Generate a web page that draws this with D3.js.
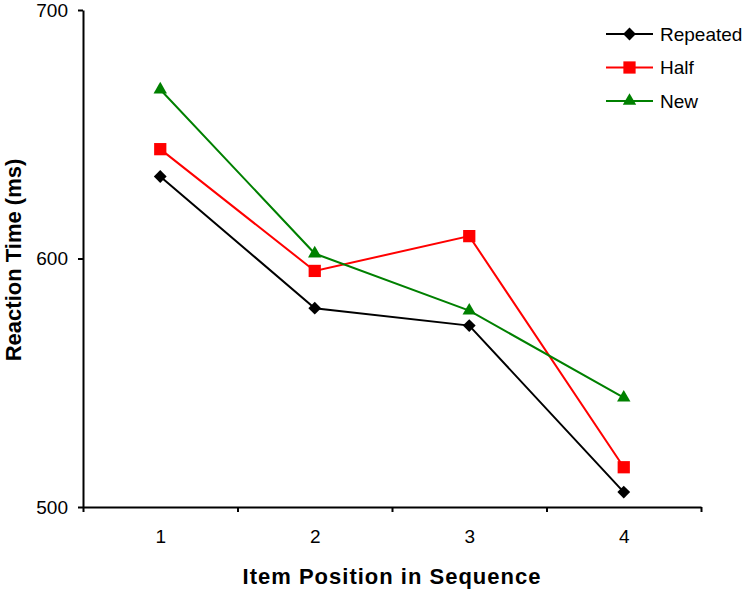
<!DOCTYPE html>
<html>
<head>
<meta charset="utf-8">
<script src="https://cdn.jsdelivr.net/npm/d3@7"></script>
<style>
  body { margin: 0; background: #fff; }
  text { font-family: Arial, "Liberation Sans", sans-serif; }
</style>
</head>
<body>
<div id="chart"></div>
<script>
var width = 746;
var height = 592;

// data
var positions = [1, 2, 3, 4];
var repeated = [633, 580, 573, 506];
var half = [644, 595, 609, 516];
var newItems = [668, 602, 579, 544];
var yTicks = [500, 600, 700];

// diamond = square turned 45 degrees
var series = [
  { name: 'Repeated', values: repeated, color: '#000000', symbol: d3.symbolSquare, size: 82, rot: 45 },
  { name: 'Half', values: half, color: '#ff0000', symbol: d3.symbolSquare, size: 150, rot: 0 },
  { name: 'New', values: newItems, color: '#008000', symbol: d3.symbolTriangle, size: 78, rot: 0 }
];

var svg = d3.select('#chart')
    .append('svg')
    .attr('width', width)
    .attr('height', height);

var x = d3.scaleLinear().domain([0.5, 4.5]).range([83, 701]);
var y = d3.scaleLinear().domain([500, 700]).range([507, 10]);

// y axis
var yAxis = svg.append('g')
    .attr('transform', 'translate(83,0)')
    .call(d3.axisLeft(y).tickValues(yTicks).tickSize(5).tickSizeOuter(0).tickPadding(10));
yAxis.select('.domain').attr('stroke-width', 2);
yAxis.selectAll('.tick line').attr('stroke-width', 2);
yAxis.selectAll('text').style('font-size', '19px').attr('fill', '#000');

// x axis: ticks between categories
var xAxis = svg.append('g')
    .attr('transform', 'translate(0,507)')
    .call(d3.axisBottom(x).tickValues([0.5, 1.5, 2.5, 3.5, 4.5]).tickFormat('').tickSize(5).tickSizeOuter(0));
xAxis.select('.domain').attr('stroke-width', 2);
xAxis.selectAll('.tick line').attr('stroke-width', 2);

// category labels
var xLabels = svg.append('g')
    .attr('transform', 'translate(0,507)')
    .call(d3.axisBottom(x).tickValues(positions).tickFormat(d3.format('d')).tickSize(0).tickPadding(23));
xLabels.select('.domain').remove();
xLabels.selectAll('text').style('font-size', '19px').attr('fill', '#000');

// axis titles
svg.append('text')
    .attr('x', 392)
    .attr('y', 584)
    .attr('text-anchor', 'middle')
    .style('font-size', '22px')
    .style('font-weight', 'bold')
    .style('letter-spacing', '1px')
    .text('Item Position in Sequence');

svg.append('text')
    .attr('transform', 'translate(21,260) rotate(-90)')
    .attr('text-anchor', 'middle')
    .style('font-size', '22px')
    .style('font-weight', 'bold')
    .text('Reaction Time (ms)');

var line = d3.line()
    .x(function(d, i) { return x(positions[i]); })
    .y(function(d) { return y(d); });

series.forEach(function(s) {
  svg.append('path')
      .datum(s.values)
      .attr('fill', 'none')
      .attr('stroke', s.color)
      .attr('stroke-width', 2)
      .attr('d', line);
});

series.forEach(function(s) {
  svg.selectAll(null)
      .data(s.values)
      .enter()
      .append('path')
      .attr('d', d3.symbol().type(s.symbol).size(s.size))
      .attr('transform', function(d, i) {
        return 'translate(' + x(positions[i]) + ',' + y(d) + ') rotate(' + s.rot + ')';
      })
      .attr('fill', s.color);
});

// legend
var legend = svg.selectAll('.legend')
    .data(series)
    .enter()
    .append('g')
    .attr('class', 'legend')
    .attr('transform', function(d, i) {
      return 'translate(606,' + (34 + i * 33.5) + ')';
    });

legend.append('line')
    .attr('x1', 0)
    .attr('x2', 47)
    .attr('stroke', function(d) { return d.color; })
    .attr('stroke-width', 2);

legend.append('path')
    .attr('d', function(d) { return d3.symbol().type(d.symbol).size(d.size)(); })
    .attr('transform', function(d) { return 'translate(23.5,0) rotate(' + d.rot + ')'; })
    .attr('fill', function(d) { return d.color; });

legend.append('text')
    .attr('x', 54)
    .attr('dy', '0.35em')
    .style('font-size', '19px')
    .text(function(d) { return d.name; });
</script>
</body>
</html>
